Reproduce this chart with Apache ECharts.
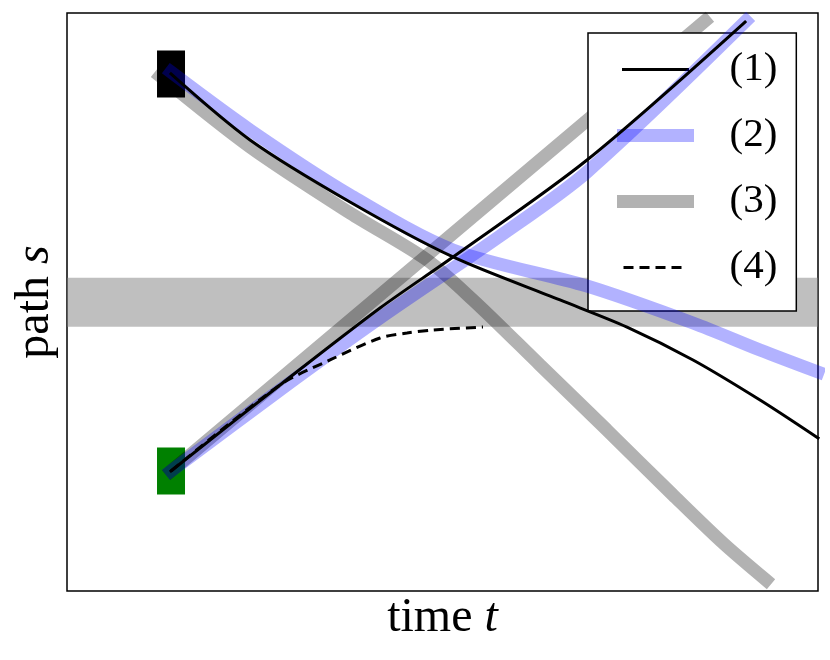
<!DOCTYPE html>
<html>
<head>
<meta charset="utf-8">
<script src="https://cdn.jsdelivr.net/npm/echarts@6/dist/echarts.min.js"></script>
<style>
  html, body { margin: 0; padding: 0; background: #fff; }
  #chart { width: 830px; height: 660px; }
</style>
</head>
<body>
<div id="chart"></div>
<script>
// axes run 0..10 in both directions (no ticks shown)
const legendNames = ['(1)', '(2)', '(3)', '(4)']

// start / goal boxes
const startTop = [1.385, 8.945]
const startBottom = [1.385, 2.076]

// horizontal obstacle band (path s)
const bandRange = [4.57, 5.42]

// (1) black paths
const line1Down = [[1.385, 8.945], [2.437, 7.803], [3.768, 6.730], [5.140, 5.779],
  [6.565, 5.035], [7.457, 4.567], [8.336, 3.997], [9.228, 3.304], [10.0, 2.647]]
const line1Up = [[1.385, 2.076], [2.836, 3.564], [4.168, 4.896], [5.140, 5.779],
  [6.924, 7.457], [9.028, 9.844]]

// (2) blue paths
const line2Down = [[1.385, 8.979], [2.437, 7.976], [3.768, 6.851], [5.140, 5.900],
  [6.924, 5.277], [8.336, 4.637], [9.228, 4.170], [10.0, 3.789]]
const line2Up = [[1.385, 2.076], [2.836, 3.478], [4.168, 4.723], [5.766, 6.142],
  [6.924, 7.249], [9.041, 9.862]]

// (3) gray paths
const line3Down = [[1.238, 8.910], [2.437, 7.682], [3.768, 6.540], [4.794, 5.727], [5.406, 5.035],
  [6.298, 3.910], [7.190, 2.785], [8.069, 1.661], [8.735, 0.830], [9.308, 0.190]]
const line3Up = [[1.385, 2.076], [4.168, 5.121], [8.495, 9.862]]

// (4) dashed path
const line4 = [[1.385, 2.076], [2.836, 3.564], [3.502, 3.997], [4.168, 4.377], [4.527, 4.464],
  [4.874, 4.516], [5.539, 4.567]]

const serif = 'Liberation Serif'
const black = '#000'
const blue = 'rgba(0,0,255,0.3)'
const gray = 'rgba(0,0,0,0.3)'

function pathSeries(name, data, color, width, extra) {
  return Object.assign({
    name: name,
    type: 'line',
    data: data,
    symbol: 'none',
    smooth: 0.3,
    silent: true,
    lineStyle: { color: color, width: width, cap: 'square' },
    itemStyle: { color: color }
  }, extra || {})
}

const labelStyle = {
  fontFamily: serif,
  fontSize: 48,
  color: '#000',
  rich: { it: { fontFamily: serif, fontSize: 48, fontStyle: 'italic', color: '#000' } }
}

const chart = echarts.init(document.getElementById('chart'))
chart.setOption({
  animation: false,
  grid: {
    left: 67,
    top: 13,
    right: 12,
    bottom: 69,
    show: true,
    borderColor: '#000',
    borderWidth: 1.5
  },
  legend: {
    data: legendNames,
    orient: 'vertical',
    left: 588,
    top: 33,
    backgroundColor: '#fff',
    borderColor: '#000',
    borderWidth: 1.5,
    borderRadius: 0,
    padding: [16, 19, 23, 29],
    itemWidth: 64,
    itemHeight: 2,
    itemGap: 25,
    selectedMode: false,
    lineStyle: { width: 'inherit' },
    itemStyle: { opacity: 0 },
    textStyle: {
      fontFamily: serif,
      fontSize: 41,
      lineHeight: 40,
      color: '#000',
      padding: [0, 0, 0, 37]
    }
  },
  xAxis: {
    type: 'value',
    min: 0,
    max: 10,
    axisLine: { show: false },
    axisTick: { show: false },
    axisLabel: { show: false },
    splitLine: { show: false },
    name: 'time {it|t}',
    nameLocation: 'middle',
    nameGap: 3,
    nameTextStyle: labelStyle
  },
  yAxis: {
    type: 'value',
    min: 0,
    max: 10,
    axisLine: { show: false },
    axisTick: { show: false },
    axisLabel: { show: false },
    splitLine: { show: false },
    name: 'path {it|s}',
    nameLocation: 'middle',
    nameGap: 8,
    nameTextStyle: labelStyle
  },
  series: [
    {
      name: 'band',
      type: 'line',
      data: [],
      silent: true,
      z: 1,
      markArea: {
        silent: true,
        label: { show: false },
        itemStyle: { color: 'rgba(128,128,128,0.5)', borderWidth: 0 },
        data: [[{ yAxis: bandRange[0] }, { yAxis: bandRange[1] }]]
      }
    },
    {
      name: 'start',
      type: 'scatter',
      data: [startTop],
      symbol: 'rect',
      symbolSize: [28, 47],
      silent: true,
      z: 2,
      itemStyle: { color: '#000', opacity: 1 }
    },
    {
      name: 'goal',
      type: 'scatter',
      data: [startBottom],
      symbol: 'rect',
      symbolSize: [28, 47],
      silent: true,
      z: 2,
      itemStyle: { color: '#008000', opacity: 1 }
    },
    pathSeries('(3)', line3Down, gray, 13, { z: 3 }),
    pathSeries('(3)', line3Up, gray, 13, { z: 3, smooth: false }),
    pathSeries('(2)', line2Down, blue, 13, { z: 4 }),
    pathSeries('(2)', line2Up, blue, 13, { z: 4 }),
    pathSeries('(1)', line1Down, black, 3, { z: 5 }),
    pathSeries('(1)', line1Up, black, 3, { z: 5 }),
    pathSeries('(4)', line4, black, 3, {
      z: 6,
      lineStyle: { color: black, width: 3, type: [10, 6], cap: 'butt' }
    })
  ]
})
</script>
</body>
</html>
